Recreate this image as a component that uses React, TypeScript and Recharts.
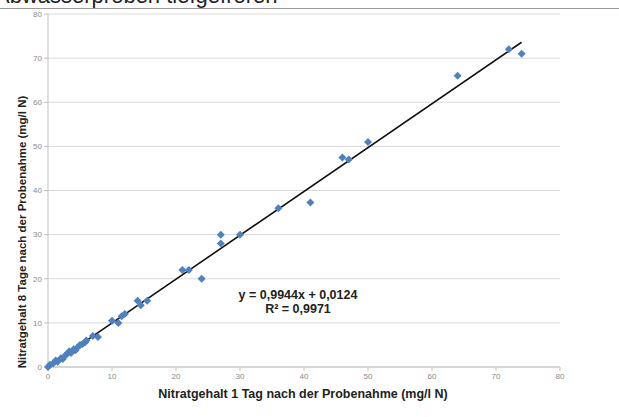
import { ScatterChart, Scatter, XAxis, YAxis, CartesianGrid, ReferenceLine } from 'recharts';

// Nitrat: 1 Tag vs 8 Tage nach Probenahme (mg/l N)
const day1 = [0, 0.3, 0.8, 1.2, 1.5, 2, 2.3, 2.7, 3, 3.3, 3.6, 4, 4.3, 4.6, 5, 5.4, 5.8, 6, 7, 7.8, 10, 11, 11.5, 12, 14, 14.5, 15.5, 21, 22, 24, 27, 27, 30, 36, 41, 46, 47, 50, 64, 72, 74];
const day8 = [0, 0.5, 0.8, 1.5, 1.2, 2, 1.8, 2.6, 3, 3.5, 3.2, 4, 3.8, 4.4, 5, 5.2, 5.6, 6, 7, 6.8, 10.5, 10, 11.5, 12, 15, 14, 15, 22, 22, 20, 30, 28, 30, 36, 37.3, 47.5, 47, 51, 66, 72, 71];
const ticks = [0, 10, 20, 30, 40, 50, 60, 70, 80];
const slope = 0.9944;
const intercept = 0.0124;

const points = day1.map((x, i) => ({ x, y: day8[i] }));
const xMax = Math.max(...day1);

const Diamond = (props: any) => {
  const { cx, cy } = props;
  const r = 4;
  return (
    <polygon
      points={`${cx},${cy - r} ${cx + r},${cy} ${cx},${cy + r} ${cx - r},${cy}`}
      fill="#4f81bd"
    />
  );
};

const tickStyle = { fontSize: 8, fill: '#8a8a8a', fontFamily: 'Liberation Sans, Arial, sans-serif' };

export default function App() {
  return (
    <div
      style={{
        position: 'fixed',
        left: 0,
        top: 0,
        width: 619,
        height: 417,
        background: '#fff',
        overflow: 'hidden',
        fontFamily: 'Liberation Sans, Arial, sans-serif',
      }}
    >
      {/* title is cut off at the top in the original scan */}
      <div
        style={{
          position: 'absolute',
          left: -5,
          top: -15,
          fontSize: 22,
          lineHeight: '22px',
          color: '#222',
          whiteSpace: 'nowrap',
        }}
      >
        Abwasserproben tiefgefroren
      </div>
      <div style={{ position: 'absolute', left: 0, top: 8, width: 619, height: 1, background: '#9a9a9a' }} />

      <ScatterChart width={619} height={417} margin={{ top: 14, right: 59, bottom: 0, left: 0 }}>
        <CartesianGrid horizontal vertical={false} stroke="#d9d9d9" />
        <XAxis
          type="number"
          dataKey="x"
          domain={[0, 80]}
          ticks={ticks}
          stroke="#bfbfbf"
          tickSize={4}
          tick={tickStyle}
          height={50}
          interval={0}
        />
        <YAxis
          type="number"
          dataKey="y"
          domain={[0, 80]}
          ticks={ticks}
          stroke="#bfbfbf"
          tickSize={4}
          tick={tickStyle}
          width={48}
          interval={0}
        />
        <ReferenceLine
          segment={[
            { x: 0, y: intercept },
            { x: xMax, y: slope * xMax + intercept },
          ]}
          stroke="#111"
          strokeWidth={1.6}
        />
        <Scatter data={points} shape={<Diamond />} isAnimationActive={false} />
      </ScatterChart>

      <div
        style={{
          position: 'absolute',
          left: 303,
          top: 387,
          transform: 'translateX(-50%)',
          fontSize: 12.5,
          fontWeight: 'bold',
          color: '#222',
          whiteSpace: 'nowrap',
        }}
      >
        Nitratgehalt 1 Tag nach der Probenahme (mg/l N)
      </div>
      <div
        style={{
          position: 'absolute',
          left: 22,
          top: 232,
          transform: 'translate(-50%, -50%) rotate(-90deg)',
          fontSize: 11.5,
          fontWeight: 'bold',
          color: '#222',
          whiteSpace: 'nowrap',
        }}
      >
        Nitratgehalt 8 Tage nach der Probenahme (mg/l N)
      </div>
      <div
        style={{
          position: 'absolute',
          left: 298,
          top: 288,
          transform: 'translateX(-50%)',
          fontSize: 12.5,
          fontWeight: 'bold',
          color: '#222',
          textAlign: 'center',
          lineHeight: '14px',
          whiteSpace: 'nowrap',
        }}
      >
        y = 0,9944x + 0,0124
        <br />
        R² = 0,9971
      </div>
    </div>
  );
}
